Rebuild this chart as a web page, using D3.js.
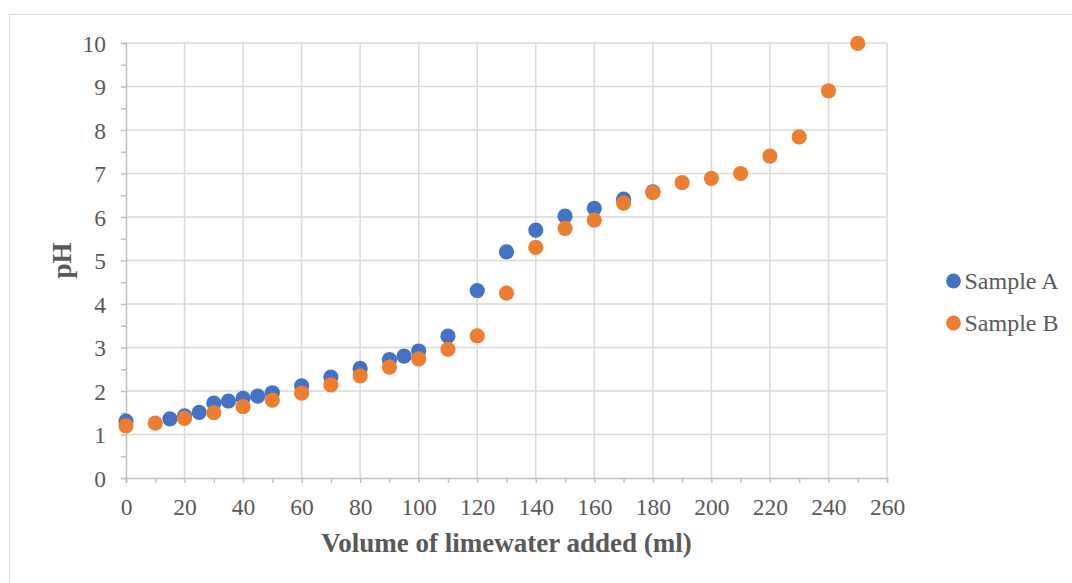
<!DOCTYPE html>
<html>
<head>
<meta charset="utf-8">
<script src="https://cdn.jsdelivr.net/npm/d3@7"></script>
<style>
  body { margin: 0; background: #fff; }
  svg text { font-family: 'Liberation Serif', 'Times New Roman', serif; fill: #595959; }
</style>
</head>
<body>
<svg id="svg" width="1072" height="583"></svg>
<script>
'use strict';

// Sample A readings
const volumeA = [0, 15, 20, 25, 30, 35, 40, 45, 50, 60, 70, 80, 90, 95, 100, 110, 120, 130, 140, 150, 160, 170, 180];
const phA = [1.31, 1.36, 1.43, 1.51, 1.72, 1.77, 1.83, 1.88, 1.96, 2.12, 2.32, 2.52, 2.72, 2.8, 2.92, 3.26, 4.31, 5.2, 5.7, 6.02, 6.2, 6.41, 6.58];

// Sample B readings
const volumeB = [0, 10, 20, 30, 40, 50, 60, 70, 80, 90, 100, 110, 120, 130, 140, 150, 160, 170, 180, 190, 200, 210, 220, 230, 240, 250];
const phB = [1.2, 1.26, 1.37, 1.5, 1.64, 1.79, 1.95, 2.14, 2.35, 2.55, 2.74, 2.96, 3.27, 4.25, 5.3, 5.74, 5.93, 6.32, 6.56, 6.79, 6.89, 7.0, 7.4, 7.84, 8.9, 9.99];

const xTicks = d3.range(0, 261, 20);
const yTicks = d3.range(0, 11, 1);

const series = [
  { name: 'Sample A', color: '#4472C4', xs: volumeA, ys: phA },
  { name: 'Sample B', color: '#ED7D31', xs: volumeB, ys: phB },
];

const FONT = "'Liberation Serif', 'Times New Roman', serif";
const svg = d3.select('#svg');

// outer chart frame
svg.append('rect')
  .attr('x', 9.5).attr('y', 14.5)
  .attr('width', 1100).attr('height', 600)
  .attr('fill', 'none').attr('stroke', '#d9d9d9');

const x = d3.scaleLinear().domain([0, 260]).range([126, 887]);
const y = d3.scaleLinear().domain([0, 10]).range([478, 43]);

// gridlines
const grid = svg.append('g').attr('stroke', '#d9d9d9').attr('stroke-width', 1.5);
grid.selectAll('line.h').data(yTicks.slice(1)).join('line')
  .attr('class', 'h')
  .attr('x1', x(0)).attr('x2', x(260))
  .attr('y1', d => y(d)).attr('y2', d => y(d));
grid.selectAll('line.v').data(xTicks.slice(1)).join('line')
  .attr('class', 'v')
  .attr('y1', y(0)).attr('y2', y(10))
  .attr('x1', d => x(d)).attr('x2', d => x(d));

// axes
const xAxis = svg.append('g')
  .attr('transform', `translate(0,${y(0)})`)
  .call(d3.axisBottom(x).tickValues(d3.range(0, 261, 10)).tickSize(5).tickFormat(d => d % 20 === 0 ? d : ''));
const yAxis = svg.append('g')
  .attr('transform', `translate(${x(0)},0)`)
  .call(d3.axisLeft(y).tickValues(d3.range(0, 10.01, 0.5)).tickSize(5).tickFormat(d => Number.isInteger(d) ? d : ''));

[xAxis, yAxis].forEach(a => {
  a.attr('font-family', FONT);
  a.select('.domain').attr('stroke', '#bfbfbf').attr('stroke-width', 1.5);
  a.selectAll('.tick line').attr('stroke', '#bfbfbf').attr('stroke-width', 1.5);
  a.selectAll('.tick text')
    .style('font-family', FONT)
    .style('font-size', '23.5px').style('fill', '#595959');
});
xAxis.selectAll('.tick text').attr('dy', null).attr('y', 37);
yAxis.selectAll('.tick text').attr('x', -20).attr('dy', '0.34em');

// axis titles
svg.append('text')
  .attr('x', (x(0) + x(260)) / 2).attr('y', 552)
  .attr('text-anchor', 'middle')
  .style('font-size', '27px').style('font-weight', 'bold')
  .text('Volume of limewater added (ml)');
svg.append('text')
  .attr('transform', `translate(71,${(y(0) + y(10)) / 2}) rotate(-90)`)
  .attr('text-anchor', 'middle')
  .style('font-size', '27px').style('font-weight', 'bold')
  .text('pH');

// points
series.forEach(s => {
  svg.append('g').selectAll('circle')
    .data(s.xs.map((v, i) => [v, s.ys[i]]))
    .join('circle')
    .attr('cx', d => x(d[0])).attr('cy', d => y(d[1]))
    .attr('r', 7.6).attr('fill', s.color);
});

// legend
const legend = svg.append('g').selectAll('g').data(series).join('g')
  .attr('transform', (d, i) => `translate(953.5,${281 + i * 42})`);
legend.append('circle').attr('r', 7.4).attr('fill', d => d.color);
legend.append('text').attr('x', 11).attr('y', 8)
  .style('font-size', '24px').text(d => d.name);
</script>
</body>
</html>
